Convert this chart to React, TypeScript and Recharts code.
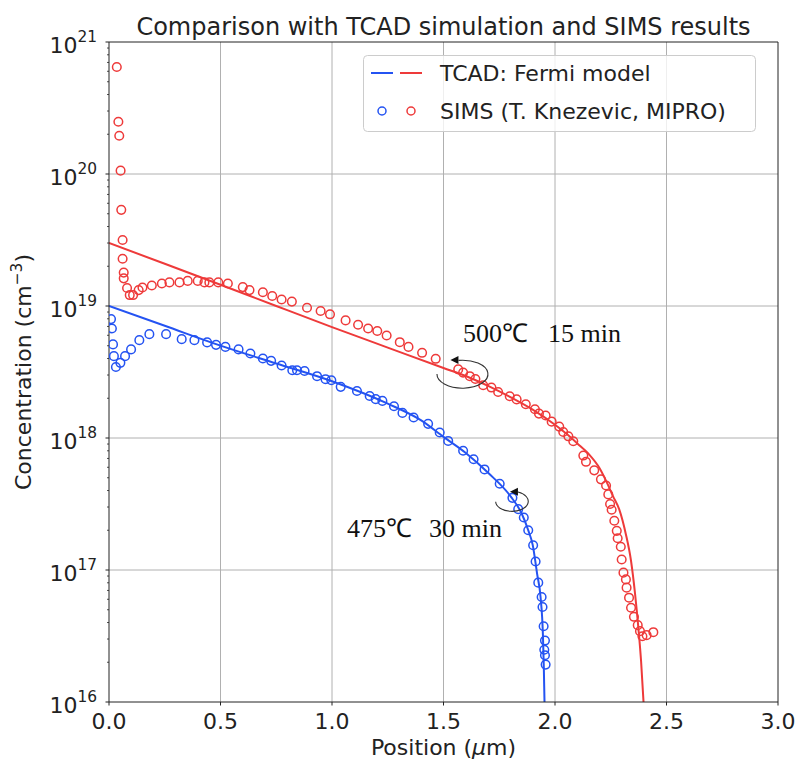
import React from 'react';
import {
  ComposedChart,
  Line,
  Scatter,
  XAxis,
  YAxis,
  ReferenceLine,
  ReferenceDot,
  Legend,
  Label,
  Customized,
} from 'recharts';

const RED = '#ee3a3a';
const BLUE = '#2453f2';
const INK = '#222222';
const GRID = '#b0b0b0';
const FONT = 'DejaVu Sans';
const SERIF = 'Liberation Serif';

// ---- axis ticks ----
const xTicks = [0, 0.5, 1, 1.5, 2, 2.5, 3];
const yMajorTicks = [1e16, 1e17, 1e18, 1e19, 1e20, 1e21];
const yMinorMultipliers = [2, 3, 4, 5, 6, 7, 8, 9];
const xGrid = [0.5, 1, 1.5, 2, 2.5];
const yGrid = [1e17, 1e18, 1e19, 1e20];

// ---- TCAD (Fermi model) lines: [position um, concentration cm^-3] ----
const tcad500: [number, number][] = [
  [0, 3.0e19], [0.25, 2.09e19], [0.5, 1.45e19], [0.75, 1.0e19], [1.0, 6.92e18],
  [1.25, 4.84e18], [1.5, 3.39e18], [1.6, 2.95e18], [1.7, 2.48e18], [1.8, 2.04e18],
  [1.9, 1.64e18], [2.0, 1.26e18], [2.05, 1.08e18], [2.1, 9.1e17], [2.15, 7.6e17],
  [2.2, 5.9e17], [2.236, 4.47e17], [2.26, 3.63e17], [2.288, 2.88e17], [2.318, 1.86e17],
  [2.341, 1.17e17], [2.359, 6.6e16], [2.374, 3.63e16], [2.386, 2.04e16], [2.397, 1.0e16],
];

const tcad475: [number, number][] = [
  [0, 1.0e19], [0.25, 7.08e18], [0.5, 5.01e18], [0.75, 3.67e18], [1.0, 2.69e18],
  [1.25, 1.82e18], [1.4, 1.36e18], [1.5, 1.02e18], [1.6, 7.7e17], [1.7, 5.45e17],
  [1.8, 3.63e17], [1.85, 2.69e17], [1.88, 2.0e17], [1.9, 1.55e17], [1.92, 9.3e16],
  [1.935, 6.3e16], [1.946, 3.16e16], [1.95, 1.78e16], [1.953, 1.0e16],
];

// ---- SIMS measurements ----
const sims500: [number, number][] = [
  [0.035, 6.46e20], [0.042, 2.49e20], [0.046, 1.95e20], [0.052, 1.06e20], [0.055, 5.35e19],
  [0.061, 3.16e19], [0.061, 2.28e19], [0.066, 1.79e19], [0.066, 1.62e19], [0.081, 1.37e19],
  [0.093, 1.21e19], [0.108, 1.21e19], [0.133, 1.32e19], [0.15, 1.38e19], [0.192, 1.43e19],
  [0.237, 1.48e19], [0.271, 1.51e19], [0.316, 1.51e19], [0.353, 1.55e19], [0.398, 1.55e19],
  [0.428, 1.51e19], [0.45, 1.51e19], [0.49, 1.51e19], [0.533, 1.48e19], [0.6, 1.39e19],
  [0.63, 1.32e19], [0.69, 1.27e19], [0.732, 1.19e19], [0.774, 1.12e19], [0.82, 1.08e19],
  [0.888, 9.7e18], [0.949, 9.16e18], [0.991, 8.65e18], [1.061, 7.78e18], [1.117, 7.21e18],
  [1.162, 6.76e18], [1.203, 6.46e18], [1.245, 5.98e18], [1.304, 5.32e18], [1.343, 4.9e18],
  [1.404, 4.42e18], [1.465, 3.98e18], [1.566, 3.31e18], [1.588, 3.13e18], [1.618, 2.94e18],
  [1.643, 2.8e18], [1.678, 2.51e18], [1.715, 2.41e18], [1.745, 2.23e18], [1.797, 2.07e18],
  [1.828, 1.96e18], [1.869, 1.8e18], [1.91, 1.65e18], [1.928, 1.53e18], [1.958, 1.48e18],
  [1.985, 1.33e18], [2.019, 1.22e18], [2.037, 1.11e18], [2.06, 1.03e18], [2.082, 9.44e17],
  [2.127, 7.36e17], [2.139, 6.6e17], [2.176, 5.69e17], [2.206, 4.86e17], [2.229, 4.37e17],
  [2.239, 3.74e17], [2.247, 3.16e17], [2.254, 2.86e17], [2.266, 2.36e17], [2.277, 1.98e17],
  [2.281, 1.74e17], [2.295, 1.5e17], [2.299, 1.2e17], [2.307, 9.55e16], [2.318, 8.49e16],
  [2.321, 7.35e16], [2.332, 6.17e16], [2.341, 5.18e16], [2.354, 4.42e16], [2.371, 3.82e16],
  [2.381, 3.44e16], [2.392, 3.15e16], [2.411, 3.21e16], [2.441, 3.38e16],
];

const sims475: [number, number][] = [
  [0.009, 7.96e18], [0.013, 6.76e18], [0.018, 5.12e18], [0.022, 4.17e18], [0.031, 3.45e18],
  [0.051, 3.71e18], [0.072, 4.17e18], [0.099, 4.69e18], [0.136, 5.51e18], [0.181, 6.12e18],
  [0.256, 6.12e18], [0.326, 5.61e18], [0.383, 5.51e18], [0.44, 5.3e18], [0.48, 5.08e18],
  [0.522, 4.9e18], [0.581, 4.69e18], [0.634, 4.37e18], [0.69, 4.0e18], [0.727, 3.84e18],
  [0.774, 3.54e18], [0.822, 3.26e18], [0.843, 3.26e18], [0.877, 3.22e18], [0.933, 2.94e18],
  [0.971, 2.79e18], [0.997, 2.74e18], [1.039, 2.44e18], [1.112, 2.27e18], [1.169, 2.08e18],
  [1.196, 1.97e18], [1.226, 1.91e18], [1.278, 1.74e18], [1.316, 1.55e18], [1.366, 1.43e18],
  [1.431, 1.28e18], [1.483, 1.1e18], [1.521, 9.5e17], [1.588, 8.0e17], [1.635, 6.9e17],
  [1.684, 5.78e17], [1.752, 4.5e17], [1.809, 3.52e17], [1.835, 2.89e17], [1.86, 2.5e17],
  [1.88, 2.0e17], [1.902, 1.54e17], [1.913, 1.16e17], [1.925, 8.02e16], [1.94, 6.24e16],
  [1.944, 5.24e16], [1.949, 3.75e16], [1.955, 2.92e16], [1.952, 2.49e16], [1.955, 2.26e16],
  [1.958, 1.92e16],
];

// annotation anchors (position um, concentration)
const anno500 = { x: 1.585, y: 3.05e18, temp: '500℃', time: '15 min' };
const anno475 = { x: 1.807, y: 3.29e17, temp: '475℃', time: '30 min' };

const toPts = (a: [number, number][]) => a.map(([x, y]) => ({ x, y }));

const yMinorTicks: number[] = [];
yMajorTicks.slice(0, -1).forEach((m) => yMinorMultipliers.forEach((k) => yMinorTicks.push(k * m)));
const yTicks = [...yMajorTicks, ...yMinorTicks].sort((a, b) => a - b);

const XTick = (props: any) => {
  const { x, y, payload } = props;
  return (
    <g>
      <line x1={x} x2={x} y1={y} y2={y + 3.5} stroke={INK} strokeWidth={1} />
      <text x={x} y={y + 27} textAnchor="middle" fontSize={22} fontFamily={FONT} fill={INK}>
        {Number(payload.value).toFixed(1)}
      </text>
    </g>
  );
};

const YTick = (props: any) => {
  const { x, y, payload } = props;
  const v = Number(payload.value);
  const exp = Math.round(Math.log10(v));
  const isMajor = Math.abs(v - Math.pow(10, exp)) / v < 1e-6;
  if (!isMajor) {
    return <line x1={x} x2={x - 2} y1={y} y2={y} stroke={INK} strokeWidth={0.8} />;
  }
  return (
    <g>
      <line x1={x} x2={x - 3.5} y1={y} y2={y} stroke={INK} strokeWidth={1} />
      <text x={x - 31.6} y={y + 11} textAnchor="end" fontSize={22} fontFamily={FONT} fill={INK}>
        10
      </text>
      <text x={x - 12} y={y} textAnchor="end" fontSize={15.4} fontFamily={FONT} fill={INK}>
        {exp}
      </text>
    </g>
  );
};

const makeCircle = (color: string) => (p: any) => (
  <circle cx={p.cx} cy={p.cy} r={4.3} fill="none" stroke={color} strokeWidth={1.5} />
);

const makeAnno = (
  rx: number,
  ry: number,
  tipDx: number,
  t1: [number, number],
  t2: [number, number],
  temp: string,
  time: string
) => (p: any) => {
  const { cx, cy } = p;
  if (cx == null || cy == null) return null;
  const tipX = cx + tipDx;
  const topY = cy - ry;
  return (
    <g>
      <path
        d={`M ${cx - rx} ${cy} A ${rx} ${ry} 0 1 0 ${tipX + 5} ${topY + 0.3}`}
        fill="none"
        stroke="#333"
        strokeWidth={1.1}
      />
      <polygon
        points={`${tipX - 3},${topY} ${tipX + 5},${topY - 4} ${tipX + 5},${topY + 4}`}
        fill="#111"
      />
      <text x={cx + t1[0]} y={cy + t1[1]} fontSize={26} fontFamily={SERIF} fill="#111">
        {temp}
      </text>
      <text x={cx + t2[0]} y={cy + t2[1]} fontSize={26} fontFamily={SERIF} fill="#111">
        {time}
      </text>
    </g>
  );
};

const LegendBox = () => (
  <svg width={394} height={78} style={{ display: 'block' }}>
    <rect x={0.5} y={0.5} width={392} height={76} rx={4} fill="#ffffff" fillOpacity={0.8} stroke="#cccccc" />
    <line x1={8} x2={30} y1={18} y2={18} stroke={BLUE} strokeWidth={2} />
    <line x1={37} x2={59} y1={18} y2={18} stroke={RED} strokeWidth={2} />
    <text x={77} y={26} fontSize={22} fontFamily={FONT} fill={INK}>
      TCAD: Fermi model
    </text>
    <circle cx={19} cy={56} r={4} fill="none" stroke={BLUE} strokeWidth={1.5} />
    <circle cx={48} cy={56} r={4} fill="none" stroke={RED} strokeWidth={1.5} />
    <text x={77} y={64} fontSize={22} fontFamily={FONT} fill={INK}>
      SIMS (T. Knezevic, MIPRO)
    </text>
  </svg>
);

const Title = () => (
  <text x={443.5} y={35} textAnchor="middle" fontSize={24} fontFamily={FONT} fill={INK}>
    Comparison with TCAD simulation and SIMS results
  </text>
);

const XLabel = (p: any) => {
  const vb = p.viewBox || { x: 109, y: 702, width: 669, height: 30 };
  return (
    <text x={vb.x + vb.width / 2} y={vb.y + 53} textAnchor="middle" fontSize={22} fontFamily={FONT} fill={INK}>
      Position (<tspan fontStyle="italic">μ</tspan>m)
    </text>
  );
};

const YLabel = (p: any) => {
  const vb = p.viewBox || { x: 49, y: 42, width: 60, height: 660 };
  const cx = 31;
  const cy = vb.y + vb.height / 2;
  return (
    <text
      x={cx}
      y={cy}
      transform={`rotate(-90, ${cx}, ${cy})`}
      textAnchor="middle"
      fontSize={22}
      fontFamily={FONT}
      fill={INK}
    >
      Concentration (cm
      <tspan fontSize={15.4} dy={-9}>
        −3
      </tspan>
      <tspan dy={9}>)</tspan>
    </text>
  );
};

export default function App() {
  return (
    <div style={{ position: 'absolute', left: 0, top: 0, background: '#ffffff' }}>
      <ComposedChart width={797} height={764} margin={{ top: 42, right: 19, bottom: 32, left: 49 }}>
        <XAxis
          type="number"
          dataKey="x"
          domain={[0, 3]}
          ticks={xTicks}
          interval={0}
          allowDataOverflow
          tick={<XTick />}
          tickLine={false}
          axisLine={false}
          tickSize={0}
          tickMargin={0}
          height={30}
        >
          <Label content={<XLabel />} />
        </XAxis>
        <YAxis
          type="number"
          dataKey="y"
          scale="log"
          domain={[1e16, 1e21]}
          ticks={yTicks}
          interval={0}
          allowDataOverflow
          tick={<YTick />}
          tickLine={false}
          axisLine={false}
          tickSize={0}
          tickMargin={0}
          width={60}
        >
          <Label content={<YLabel />} />
        </YAxis>

        {xGrid.map((v) => (
          <ReferenceLine key={`gx${v}`} x={v} stroke={GRID} strokeWidth={1} />
        ))}
        {yGrid.map((v) => (
          <ReferenceLine key={`gy${v}`} y={v} stroke={GRID} strokeWidth={1} />
        ))}

        <Line
          data={toPts(tcad475)}
          dataKey="y"
          type="monotone"
          stroke={BLUE}
          strokeWidth={2}
          dot={false}
          isAnimationActive={false}
        />
        <Line
          data={toPts(tcad500)}
          dataKey="y"
          type="monotone"
          stroke={RED}
          strokeWidth={2}
          dot={false}
          isAnimationActive={false}
        />
        <Scatter data={toPts(sims475)} dataKey="y" shape={makeCircle(BLUE)} isAnimationActive={false} />
        <Scatter data={toPts(sims500)} dataKey="y" shape={makeCircle(RED)} isAnimationActive={false} />

        <ReferenceDot
          x={anno500.x}
          y={anno500.y}
          r={0}
          shape={makeAnno(25.5, 14, -9, [0.5, -32], [85.5, -32], anno500.temp, anno500.time)}
        />
        <ReferenceDot
          x={anno475.x}
          y={anno475.y}
          r={0}
          shape={makeAnno(16.3, 10, 1, [-165, 35.3], [-83, 35.3], anno475.temp, anno475.time)}
        />

        <ReferenceLine x={0} stroke={INK} strokeWidth={1} />
        <ReferenceLine x={3} stroke={INK} strokeWidth={1} />
        <ReferenceLine y={1e16} stroke={INK} strokeWidth={1} />
        <ReferenceLine y={1e21} stroke={INK} strokeWidth={1} />

        <Customized component={<Title />} />
        <Legend
          layout="horizontal"
          verticalAlign="middle"
          align="center"
          content={() => <LegendBox />}
          wrapperStyle={{ position: 'absolute', left: 363, top: 55, width: 394, height: 78 }}
        />
      </ComposedChart>
    </div>
  );
}
